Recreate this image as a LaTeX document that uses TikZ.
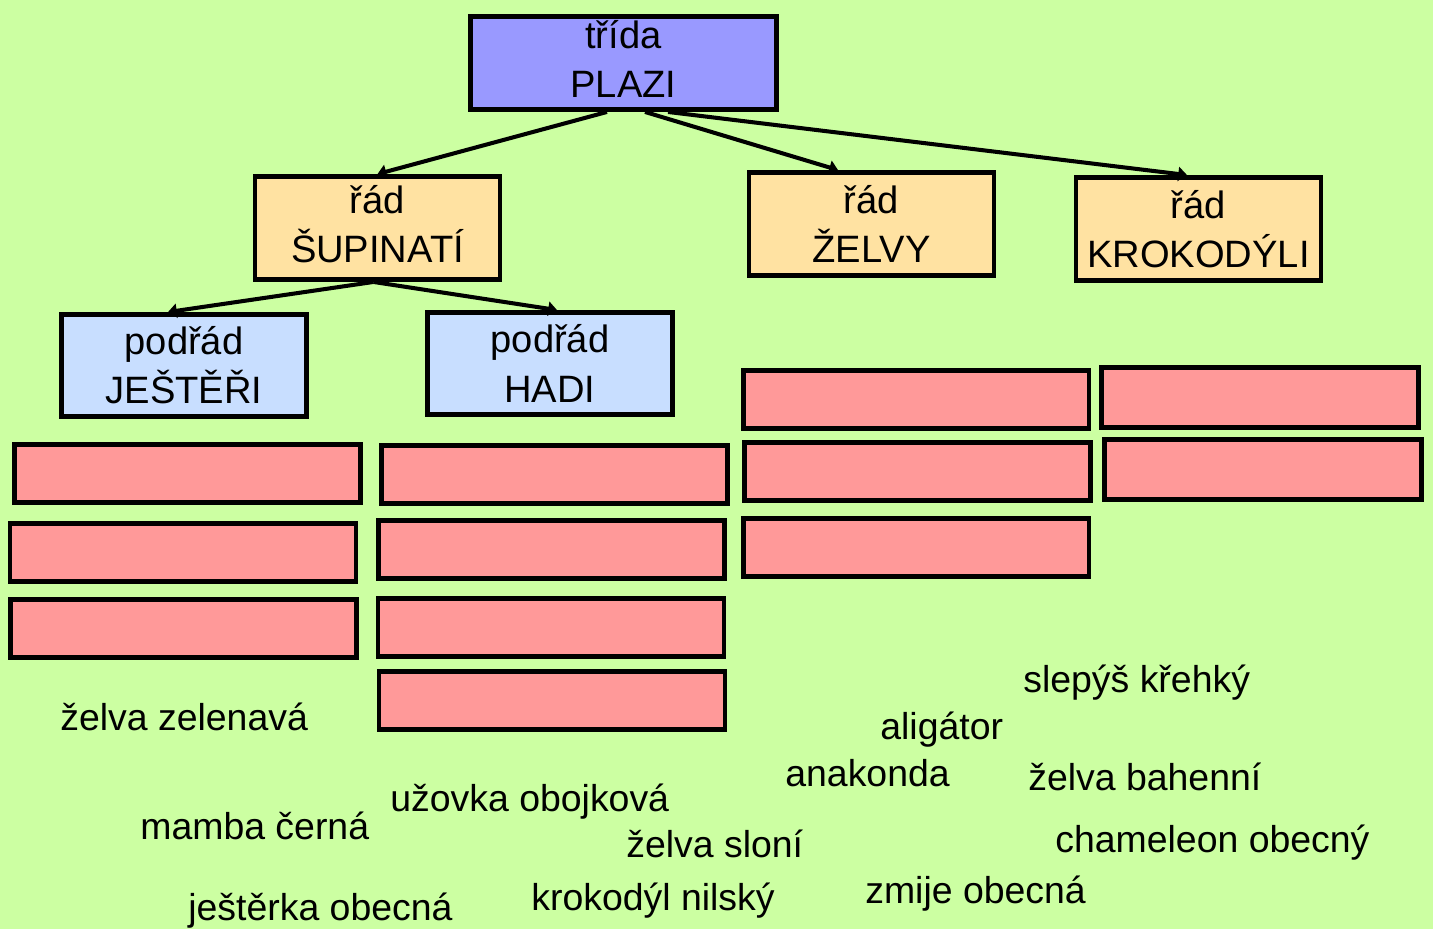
\documentclass[tikz,border=0pt]{standalone}
\usepackage{fontspec}
\setmainfont{Liberation Sans}
\usetikzlibrary{arrows.meta}
\definecolor{bg}{RGB}{204,255,162}
\definecolor{violet1}{RGB}{153,153,255}
\definecolor{orange1}{RGB}{255,226,162}
\definecolor{blue1}{RGB}{200,222,255}
\definecolor{pink1}{RGB}{255,153,153}
\newcommand{\slidefont}{\fontsize{21.3}{26.5}\selectfont}
\newcommand{\boxfont}{\fontsize{21.7}{28}\selectfont}
\tikzstyle{box}=[rectangle, draw, line width=2.8pt, align=center, inner sep=1pt, font=\boxfont]
\tikzstyle{arr}=[-{Triangle[length=5pt,width=8pt]}, line width=2.3pt]

\begin{document}
\begin{tikzpicture}[x=0.02cm, y=-0.02cm]

\tikzstyle{box0}=[box, fill=violet1, minimum width=6.12cm, minimum height=1.86cm]
\tikzstyle{box1}=[box, fill=orange1, minimum width=4.9cm, minimum height=2.06cm]
\tikzstyle{box2}=[box, fill=blue1, minimum width=4.9cm, minimum height=2.04cm]
\tikzstyle{box4}=[box, fill=pink1, minimum width=6.92cm, minimum height=1.16cm]
\tikzstyle{box5}=[box, fill=pink1, minimum width=6.34cm, minimum height=1.2cm]
\tikzstyle{word}=[anchor=base west, inner sep=0pt, font=\slidefont]

\fill [bg] (0,0) rectangle (1433,929);
\useasboundingbox (0,0) rectangle (1433,929);

\node (P) [box0, text depth=4.5pt] at (623.5,63)  {třída\\PLAZI};

\node (S) [box1, text depth=4.5pt] at (377.5,228) {řád\\ŠUPINATÍ};
\node (Z) [box1] at (871.5,224) {řád\\ŽELVY};
\node (K) [box1] at (1198.5,229) {řád\\KROKODÝLI};

\node (J) [box2] at (184,365.5) {podřád\\JEŠTĚŘI};
\node (H) [box2] at (550,363.5) {podřád\\HADI};

% empty boxes to fill in
\node (J1) [box4] at (187.5,473.5) {};
\node (J2) [box4] at (183,552.5)   {};
\node (J3) [box4] at (183.5,628.5) {};

\node (H1) [box4] at (554.5,474.5) {};
\node (H2) [box4] at (551.5,549.5) {};
\node (H3) [box4] at (551,627.5)   {};
\node (H4) [box4] at (552,700.5)   {};

\node (Z1) [box4] at (916,399.5)   {};
\node (Z2) [box4] at (917.5,471.5) {};
\node (Z3) [box4] at (916,547.5)   {};

\node (K1) [box5] at (1260,397.5) {};
\node (K2) [box5] at (1263,469.5) {};

\draw [arr] ([xshift=-0.33cm]P.south) -- (S.north);
\draw [arr] ([xshift=0.43cm]P.south) -- ([xshift=-0.67cm]Z.north);
\draw [arr] ([xshift=0.89cm]P.south) -- ([xshift=-0.23cm]K.north);
\draw [arr] ([xshift=-0.08cm]S.south) -- ([xshift=-0.32cm]J.north);
\draw [arr] ([xshift=-0.08cm]S.south) -- ([xshift=0.14cm]H.north);

% names to sort
\node (w1)  [word] at (60,730)   {želva zelenavá};
\node (w2)  [word] at (140,839)  {mamba černá};
\node (w3)  [word] at (188,920)  {ještěrka obecná};
\node (w4)  [word] at (390,811)  {užovka obojková};
\node (w5)  [word] at (531,910)  {krokodýl nilský};
\node (w6)  [word] at (626,857)  {želva sloní};
\node (w7)  [word] at (785,786)  {anakonda};
\node (w8)  [word] at (880,739)  {aligátor};
\node (w9)  [word] at (865,903)  {zmije obecná};
\node (w10) [word] at (1023,692) {slepýš křehký};
\node (w11) [word] at (1028,790) {želva bahenní};
\node (w12) [word] at (1055,852) {chameleon obecný};

\end{tikzpicture}
\end{document}
